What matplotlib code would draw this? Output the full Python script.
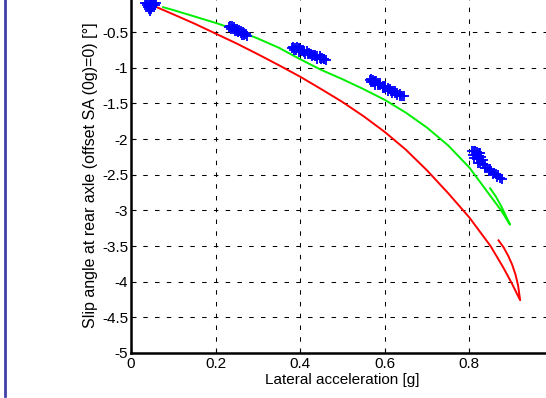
import matplotlib
matplotlib.use('Agg')
import matplotlib.pyplot as plt
from matplotlib.lines import Line2D

plt.rcParams['font.family'] = ['Liberation Sans', 'DejaVu Sans']
plt.rcParams['axes.unicode_minus'] = False

# red curve: outward run, then short return branch from the tip
red_x = [0.057, 0.10, 0.15, 0.20, 0.25, 0.30, 0.35, 0.40, 0.45, 0.50, 0.55, 0.60, 0.65,
         0.70, 0.75, 0.80, 0.85, 0.88, 0.90, 0.920,
         0.915, 0.909, 0.901, 0.892, 0.881, 0.869]
red_y = [-0.14, -0.25, -0.38, -0.52, -0.66, -0.81, -0.965, -1.125, -1.30, -1.48, -1.68, -1.90, -2.15,
         -2.44, -2.76, -3.10, -3.50, -3.80, -4.02, -4.26,
         -4.05, -3.90, -3.76, -3.64, -3.52, -3.42]

# green curve, with return branch at the end
green_x = [0.076, 0.10, 0.15, 0.20, 0.25, 0.30, 0.35, 0.40, 0.45, 0.50, 0.55, 0.60, 0.65,
           0.70, 0.75, 0.80, 0.85, 0.875, 0.896,
           0.888, 0.876, 0.862, 0.849]
green_y = [-0.15, -0.19, -0.28, -0.37, -0.47, -0.59, -0.72, -0.88, -1.03, -1.16, -1.30, -1.45, -1.63,
           -1.84, -2.09, -2.40, -2.80, -3.00, -3.20,
           -3.10, -2.95, -2.80, -2.69]

# blue measurement clusters
meas_x = [0.034, 0.039, 0.044, 0.049, 0.054, 0.059, 0.037, 0.042, 0.047, 0.052, 0.057,
          0.040, 0.045, 0.050, 0.043, 0.047, 0.045,
          0.231, 0.235, 0.239, 0.243, 0.236, 0.241, 0.246, 0.250, 0.245, 0.250, 0.255, 0.259,
          0.254, 0.259, 0.264, 0.268, 0.262, 0.267, 0.272, 0.275,
          0.380, 0.384, 0.388, 0.392, 0.396, 0.400, 0.386, 0.391, 0.396, 0.401, 0.406, 0.410,
          0.398, 0.404, 0.410, 0.415, 0.420, 0.425, 0.412, 0.418, 0.424, 0.430, 0.435,
          0.428, 0.434, 0.440, 0.446, 0.440, 0.446, 0.452, 0.457, 0.450, 0.456, 0.461,
          0.564, 0.568, 0.572, 0.576, 0.580, 0.568, 0.573, 0.578, 0.583, 0.588, 0.577, 0.583,
          0.589, 0.595, 0.600, 0.595, 0.601, 0.607, 0.612, 0.608, 0.614, 0.620, 0.625, 0.618,
          0.624, 0.630, 0.636, 0.630, 0.636, 0.641, 0.646,
          0.806, 0.810, 0.814, 0.818, 0.822, 0.826, 0.808, 0.813, 0.818, 0.823, 0.828, 0.812,
          0.817, 0.822, 0.827, 0.832, 0.820, 0.826, 0.832, 0.838, 0.836, 0.842, 0.848, 0.846,
          0.852, 0.858, 0.856, 0.862, 0.868, 0.866, 0.872, 0.876]
meas_y = [-0.09, -0.09, -0.09, -0.09, -0.09, -0.09, -0.12, -0.12, -0.12, -0.12, -0.12,
          -0.15, -0.15, -0.15, -0.18, -0.18, -0.20,
          -0.43, -0.42, -0.42, -0.43, -0.46, -0.45, -0.45, -0.46, -0.48, -0.48, -0.47, -0.48,
          -0.50, -0.51, -0.50, -0.51, -0.54, -0.54, -0.53, -0.55,
          -0.72, -0.71, -0.72, -0.71, -0.72, -0.73, -0.75, -0.75, -0.74, -0.75, -0.75, -0.76,
          -0.78, -0.77, -0.78, -0.77, -0.79, -0.80, -0.81, -0.80, -0.81, -0.82, -0.82,
          -0.84, -0.83, -0.84, -0.84, -0.87, -0.86, -0.86, -0.87, -0.88, -0.88, -0.89,
          -1.17, -1.16, -1.17, -1.18, -1.18, -1.20, -1.20, -1.20, -1.21, -1.22, -1.24, -1.24,
          -1.24, -1.25, -1.26, -1.28, -1.28, -1.29, -1.30, -1.32, -1.32, -1.33, -1.33, -1.35,
          -1.35, -1.36, -1.37, -1.38, -1.39, -1.39, -1.40,
          -2.17, -2.16, -2.17, -2.18, -2.19, -2.20, -2.22, -2.22, -2.22, -2.24, -2.25, -2.27,
          -2.27, -2.28, -2.29, -2.30, -2.33, -2.33, -2.35, -2.37, -2.40, -2.41, -2.42, -2.45,
          -2.45, -2.47, -2.49, -2.49, -2.51, -2.53, -2.54, -2.56]

xticks = [0, 0.2, 0.4, 0.6, 0.8]
xticklabels = ['0', '0.2', '0.4', '0.6', '0.8']
yticks = [-5, -4.5, -4, -3.5, -3, -2.5, -2, -1.5, -1, -0.5]
yticklabels = ['-5', '-4.5', '-4', '-3.5', '-3', '-2.5', '-2', '-1.5', '-1', '-0.5']

fig = plt.figure(figsize=(5.46, 3.98), dpi=100)
fig.patch.set_facecolor('white')
# axes runs past the right and top edges of the picture (cropped figure)
ax = fig.add_axes([131 / 546, 45 / 398, 423 / 546, 356.5 / 398])

ax.plot(meas_x, meas_y, linestyle='none', marker='+', color='#0000ff',
        markersize=7, markeredgewidth=1.3, zorder=3)
ax.plot(green_x, green_y, color='#00ee00', linewidth=1.4, zorder=2)
ax.plot(red_x, red_y, color='#ff0000', linewidth=1.4, zorder=2)

ax.set_xlim(0, 1)
ax.set_ylim(-5, 0)
ax.set_xticks(xticks)
ax.set_xticklabels(xticklabels)
ax.set_yticks(yticks)
ax.set_yticklabels(yticklabels)
ax.grid(True, color='black', linewidth=0.75, linestyle=(0, (4.3, 7.0)))
ax.set_axisbelow(True)

for side in ['top', 'right']:
    ax.spines[side].set_visible(False)
for side in ['left', 'bottom']:
    ax.spines[side].set_linewidth(1.8)
ax.tick_params(direction='in', length=3.5, width=0.8, labelsize=11, pad=3, colors='black')
ax.tick_params(axis='y', pad=2)

ax.set_xlabel('Lateral acceleration [g]', fontsize=11, labelpad=1)
ax.set_ylabel('Slip angle at rear axle (offset SA (0g)=0) [°]', fontsize=11.5, labelpad=3)

# the blue bar at the left edge
fig.add_artist(Line2D([5 / 546, 5 / 546], [2 / 398, 1.0], transform=fig.transFigure,
                      color='#4040a8', linewidth=2))

fig.savefig('out.png', dpi=100, facecolor='white')
